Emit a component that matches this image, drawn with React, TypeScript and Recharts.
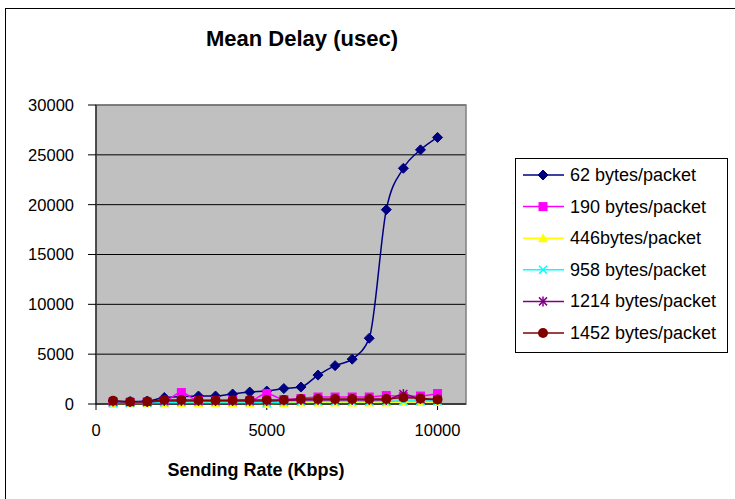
import React from 'react';
import { LineChart, Line, XAxis, YAxis, CartesianGrid, ReferenceArea } from 'recharts';

// sending rate, Kbps
const rates = [
  500, 1000, 1500, 2000, 2500, 3000, 3500, 4000, 4500, 5000,
  5500, 6000, 6500, 7000, 7500, 8000, 8500, 9000, 9500, 10000,
];

// mean delay, usec, per packet size
const delay62 = [300, 250, 300, 650, 750, 800, 800, 1000, 1200, 1300, 1550, 1700, 2900, 3850, 4500, 6600, 19500, 23650, 25500, 26750];
const delay190 = [150, 150, 200, 300, 1150, 350, 350, 350, 350, 1050, 450, 550, 700, 700, 700, 700, 850, 750, 800, 1050];
const delay446 = [0, 50, 50, 100, 100, 100, 100, 100, 100, 0, 100, 150, 150, 150, 150, 150, 150, 200, 200, 200];
const delay958 = [100, 100, 150, 150, 200, 200, 200, 200, 200, 100, 200, 250, 250, 250, 250, 250, 250, 300, 300, 300];
const delay1214 = [250, 200, 200, 300, 300, 300, 300, 300, 300, 300, 350, 400, 400, 400, 400, 400, 400, 1000, 500, 450];
const delay1452 = [330, 230, 250, 400, 400, 380, 380, 380, 400, 400, 400, 500, 500, 500, 500, 500, 500, 650, 550, 450];

const yTicks = [0, 5000, 10000, 15000, 20000, 25000, 30000];
const xTicks = [0, 5000, 10000];

type MarkerKind = 'diamond' | 'square' | 'triangle' | 'cross' | 'star' | 'circle';

const series: { key: string; name: string; color: string; marker: MarkerKind; values: number[] }[] = [
  { key: 's62', name: '62 bytes/packet', color: '#000080', marker: 'diamond', values: delay62 },
  { key: 's190', name: '190 bytes/packet', color: '#FF00FF', marker: 'square', values: delay190 },
  { key: 's446', name: '446bytes/packet', color: '#FFFF00', marker: 'triangle', values: delay446 },
  { key: 's958', name: '958 bytes/packet', color: '#00FFFF', marker: 'cross', values: delay958 },
  { key: 's1214', name: '1214 bytes/packet', color: '#800080', marker: 'star', values: delay1214 },
  { key: 's1452', name: '1452 bytes/packet', color: '#800000', marker: 'circle', values: delay1452 },
];

const data = rates.map((rate, i) => {
  const row: Record<string, number> = { rate };
  series.forEach((s) => {
    row[s.key] = s.values[i];
  });
  return row;
});

const FONT = 'Arial, "Liberation Sans", Helvetica, sans-serif';

function Marker({ kind, cx, cy, color }: { kind: MarkerKind; cx: number; cy: number; color: string }) {
  switch (kind) {
    case 'diamond':
      return <polygon points={`${cx},${cy - 5} ${cx + 5},${cy} ${cx},${cy + 5} ${cx - 5},${cy}`} fill={color} stroke={color} />;
    case 'square':
      return <rect x={cx - 4.5} y={cy - 4.5} width={9} height={9} fill={color} />;
    case 'triangle':
      return <polygon points={`${cx},${cy - 5} ${cx + 5},${cy + 4} ${cx - 5},${cy + 4}`} fill={color} />;
    case 'cross':
      return (
        <g stroke={color} strokeWidth={1.5}>
          <line x1={cx - 4} y1={cy - 4} x2={cx + 4} y2={cy + 4} />
          <line x1={cx - 4} y1={cy + 4} x2={cx + 4} y2={cy - 4} />
        </g>
      );
    case 'star':
      return (
        <g stroke={color} strokeWidth={1.5}>
          <line x1={cx - 4} y1={cy - 4} x2={cx + 4} y2={cy + 4} />
          <line x1={cx - 4} y1={cy + 4} x2={cx + 4} y2={cy - 4} />
          <line x1={cx} y1={cy - 5} x2={cx} y2={cy + 5} />
        </g>
      );
    default:
      return <circle cx={cx} cy={cy} r={5} fill={color} />;
  }
}

export default function App() {
  return (
    <div style={{ position: 'absolute', left: 0, top: 0, width: 735, height: 499, overflow: 'hidden', background: '#fff', fontFamily: FONT }}>
      <div style={{ position: 'absolute', left: 5, top: 8, width: 800, height: 600, border: '1px solid #000' }} />
      <LineChart
        width={735}
        height={499}
        data={data}
        margin={{ top: 105, right: 269, bottom: 55, left: 36 }}
        style={{ position: 'absolute', left: 0, top: 0 }}
      >
        <CartesianGrid vertical={false} stroke="#000" fill="#C0C0C0" fillOpacity={1} />
        <XAxis
          dataKey="rate"
          type="number"
          domain={[0, 10833]}
          ticks={xTicks}
          allowDataOverflow
          height={40}
          stroke="#000"
          tickSize={6}
          tickMargin={14}
          tick={{ fill: '#000', fontSize: 16.5, fontFamily: FONT }}
        />
        <YAxis
          domain={[0, 30000]}
          ticks={yTicks}
          width={60}
          stroke="#000"
          tickSize={8}
          tickMargin={14}
          tick={{ fill: '#000', fontSize: 16.5, fontFamily: FONT }}
        />
        <ReferenceArea x1={0} x2={10833} y1={0} y2={30000} fill="none" stroke="#808080" strokeWidth={1.5} ifOverflow="visible" />
        {series.map((s) => (
          <Line
            key={s.key}
            dataKey={s.key}
            name={s.name}
            type="monotone"
            stroke={s.color}
            strokeWidth={1.5}
            isAnimationActive={false}
            activeDot={false}
            dot={(p: any) => <Marker key={`${s.key}-${p.index}`} kind={s.marker} cx={p.cx} cy={p.cy} color={s.color} />}
          />
        ))}
      </LineChart>
      <svg width={735} height={499} style={{ position: 'absolute', left: 0, top: 0, pointerEvents: 'none' }}>
        <text x={302} y={46} textAnchor="middle" fontSize={22} fontWeight="bold" fontFamily={FONT} fill="#000">
          Mean Delay (usec)
        </text>
        <text x={256} y={476} textAnchor="middle" fontSize={18} fontWeight="bold" fontFamily={FONT} fill="#000">
          Sending Rate (Kbps)
        </text>
        <rect x={515.5} y={158.5} width={212} height={194} fill="#fff" stroke="#000" />
        {series.map((s, i) => {
          const cy = 175 + i * 31.6;
          return (
            <g key={s.key}>
              <line x1={523} y1={cy} x2={564} y2={cy} stroke={s.color} strokeWidth={1.5} />
              <Marker kind={s.marker} cx={543} cy={cy} color={s.color} />
              <text x={570} y={cy + 6} fontSize={18} fontFamily={FONT} fill="#000">
                {s.name}
              </text>
            </g>
          );
        })}
      </svg>
    </div>
  );
}
